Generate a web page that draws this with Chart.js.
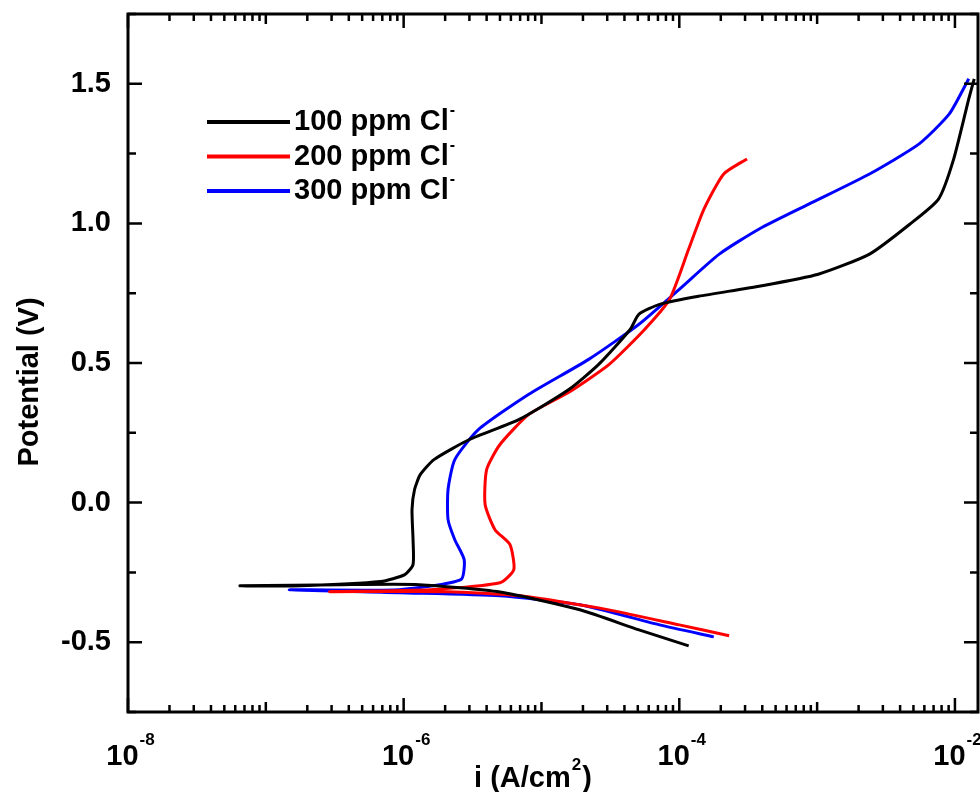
<!DOCTYPE html>
<html><head><meta charset="utf-8">
<script src="https://cdn.jsdelivr.net/npm/chart.js@4/dist/chart.umd.min.js"></script>
<style>html,body{margin:0;padding:0;background:#fff}#wrap{width:980px;height:792px}</style>
</head><body><div id="wrap"><canvas id="c"></canvas></div>
<script>
const seriesLabels = ['100 ppm Cl','200 ppm Cl','300 ppm Cl'];
const seriesColors = ['#000000','#ff0000','#0000ff'];
const xTickValues = [1e-8,1e-6,1e-4,1e-2];
const xTickExps = ['-8','-6','-4','-2'];
const yTickValues = [-0.5,0,0.5,1.0,1.5];

const i100 = [1.17e-4,5.1e-5,1.9e-5,5.0e-6,1.3e-6,3.5e-7,6.5e-8,1.8e-7,6.8e-7,1.02e-6,1.17e-6,1.17e-6,1.15e-6,1.2e-6,1.32e-6,1.66e-6,3.0e-6,6.9e-6,1.58e-5,2.6e-5,4.4e-5,5.1e-5,7.2e-5,1.38e-4,3.8e-4,1.02e-3,2.4e-3,4.7e-3,7.6e-3,9.8e-3,1.26e-2,1.38e-2];
const e100 = [-0.513,-0.456,-0.384,-0.32,-0.294,-0.294,-0.298,-0.298,-0.283,-0.258,-0.222,-0.133,-0.025,0.047,0.10,0.154,0.226,0.298,0.405,0.495,0.62,0.675,0.71,0.739,0.775,0.818,0.89,0.997,1.087,1.231,1.446,1.518];
const i200 = [2.3e-4,1.0e-4,2.6e-5,6.9e-6,2.1e-6,2.9e-7,1.55e-6,5.0e-6,6.3e-6,5.9e-6,4.6e-6,3.9e-6,4.0e-6,5.0e-6,8.1e-6,1.58e-5,3.1e-5,5.6e-5,8.5e-5,1.17e-4,1.51e-4,2.1e-4,3.1e-4];
const e200 = [-0.477,-0.438,-0.377,-0.334,-0.319,-0.319,-0.312,-0.287,-0.24,-0.15,-0.097,-0.007,0.118,0.208,0.316,0.395,0.495,0.62,0.728,0.908,1.051,1.177,1.231];
const i300 = [1.78e-4,7.2e-5,1.9e-5,5.0e-6,9.3e-7,1.48e-7,9.3e-7,2.6e-6,2.75e-6,2.35e-6,2.1e-6,2.1e-6,2.35e-6,3.5e-6,8.1e-6,2.2e-5,5.1e-5,1.0e-4,1.95e-4,3.8e-4,8.7e-4,2.4e-3,5.5e-3,9.1e-3,1.26e-2];
const e300 = [-0.481,-0.438,-0.366,-0.334,-0.323,-0.312,-0.312,-0.276,-0.205,-0.133,-0.061,0.047,0.154,0.262,0.388,0.513,0.639,0.764,0.89,0.98,1.069,1.177,1.285,1.392,1.518];

const pts = (xs,ys)=>xs.map((x,k)=>({x,y:ys[k]}));
const allData=[pts(i100,e100),pts(i200,e200),pts(i300,e300)];
const F='Arial, "Liberation Sans"';

const frame = {
  id:'frame',
  afterDraw(chart){
    const ctx=chart.ctx, a=chart.chartArea, xs=chart.scales.x, ys=chart.scales.y;
    ctx.save();
    ctx.strokeStyle='#000'; ctx.lineWidth=3;
    ctx.strokeRect(a.left,a.top,a.right-a.left,a.bottom-a.top);
    ctx.lineWidth=2.5;
    for(let d=-8; d<=-2; d++){
      for(let m=1;m<=9;m++){
        const v=m*Math.pow(10,d);
        if(v<xs.min||v>xs.max) continue;
        const px=xs.getPixelForValue(v);
        const major = (m===1 && d%2===0);
        const len = major?14:(m===1?10:7);
        ctx.beginPath();ctx.moveTo(px,a.bottom);ctx.lineTo(px,a.bottom-len);
        ctx.moveTo(px,a.top);ctx.lineTo(px,a.top+len);ctx.stroke();
      }
    }
    for(let v=-0.75; v<=1.75; v+=0.25){
      const py=ys.getPixelForValue(v);
      const major=Math.abs(v*2-Math.round(v*2))<1e-6;
      const len=major?14:8;
      ctx.beginPath();ctx.moveTo(a.left,py);ctx.lineTo(a.left+len,py);
      ctx.moveTo(a.right,py);ctx.lineTo(a.right-len,py);ctx.stroke();
    }
    ctx.fillStyle='#000';
    // y tick labels
    ctx.font='bold 29px '+F; ctx.textAlign='right'; ctx.textBaseline='middle';
    yTickValues.forEach(v=>ctx.fillText(v.toFixed(1),111,ys.getPixelForValue(v)));
    // y title
    ctx.save(); ctx.translate(30,382); ctx.rotate(-Math.PI/2);
    ctx.textAlign='center'; ctx.font='bold 29px '+F; ctx.fillText('Potential (V)',0,0);
    ctx.restore();
    // x tick labels
    ctx.textAlign='left'; ctx.textBaseline='alphabetic';
    xTickValues.forEach((v,k)=>{
      const px=xs.getPixelForValue(v);
      ctx.font='bold 29px '+F;
      const w1=ctx.measureText('10').width;
      ctx.font='bold 17px '+F;
      const w2=ctx.measureText(xTickExps[k]).width;
      const x0=px-(w1+w2)/2+2;
      ctx.font='bold 29px '+F; ctx.fillText('10',x0,765);
      ctx.font='bold 17px '+F; ctx.fillText(xTickExps[k],x0+w1+1,745);
    });
    // x title
    ctx.font='bold 29px '+F;
    const t1='i (A/cm', t2=')';
    const tw1=ctx.measureText(t1).width, tw2=ctx.measureText(t2).width;
    ctx.font='bold 17px '+F; const tws=ctx.measureText('2').width;
    let tx=532-(tw1+tws+tw2)/2;
    ctx.font='bold 29px '+F; ctx.fillText(t1,tx,787);
    ctx.font='bold 17px '+F; ctx.fillText('2',tx+tw1+1,770);
    ctx.font='bold 29px '+F; ctx.fillText(t2,tx+tw1+tws+2,787);
    // legend
    ctx.textBaseline='middle';
    chart.data.datasets.forEach((ds,k)=>{
      const y=122+k*34.5;
      ctx.strokeStyle=ds.borderColor; ctx.lineWidth=4;
      ctx.beginPath();ctx.moveTo(207,y);ctx.lineTo(290,y);ctx.stroke();
      ctx.fillStyle='#000'; ctx.font='bold 29px '+F; ctx.fillText(ds.label,294,y);
      const w=ctx.measureText(ds.label).width;
      ctx.font='bold 16px '+F; ctx.fillText('-',294+w+1,y-11);
    });
    ctx.restore();
  }
};

new Chart(document.getElementById('c'),{
  type:'scatter',
  data:{datasets:allData.map((d,k)=>({label:seriesLabels[k],data:d,showLine:true,borderColor:seriesColors[k],backgroundColor:seriesColors[k],borderWidth:3,pointRadius:0,tension:0.2}))},
  options:{
    responsive:true,maintainAspectRatio:false,animation:false,
    layout:{padding:{top:14,right:2,left:0,bottom:0}},
    plugins:{legend:{display:false},tooltip:{enabled:false}},
    scales:{
      x:{type:'logarithmic',min:1e-8,max:1.47e-2,
        afterBuildTicks(s){s.ticks=xTickValues.map(v=>({value:v}));},
        afterFit(s){s.height=80;},
        grid:{display:false,drawTicks:false},border:{display:false},
        ticks:{display:false},title:{display:false}},
      y:{min:-0.75,max:1.75,
        afterBuildTicks(s){s.ticks=yTickValues.map(v=>({value:v}));},
        afterFit(s){s.width=128;},
        grid:{display:false,drawTicks:false},border:{display:false},
        ticks:{display:false},title:{display:false}}
    }
  },
  plugins:[frame]
});
</script></body></html>
